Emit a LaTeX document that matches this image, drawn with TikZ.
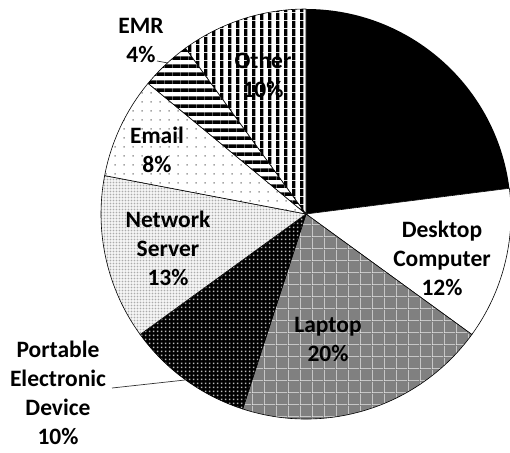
\documentclass[tikz,border=0pt]{standalone}
\usepackage{fontspec}
\setmainfont{Carlito}
\usetikzlibrary{patterns}

\pgfdeclarepatternformonly{vstripes}{\pgfpointorigin}{\pgfpoint{7.5pt}{7.5pt}}{\pgfpoint{7.5pt}{7.5pt}}{%
  \pgfpathrectangle{\pgfpointorigin}{\pgfpoint{3.6pt}{7.5pt}}\pgfusepath{fill}}
\pgfdeclarepatternformonly{hstripes}{\pgfpointorigin}{\pgfpoint{8.3pt}{8.3pt}}{\pgfpoint{8.3pt}{8.3pt}}{%
  \pgfpathrectangle{\pgfpointorigin}{\pgfpoint{8.3pt}{3.8pt}}\pgfusepath{fill}}
\pgfdeclarepatternformonly{sparsedots}{\pgfpointorigin}{\pgfpoint{8.5pt}{8.5pt}}{\pgfpoint{8.5pt}{8.5pt}}{%
  \pgfpathrectangle{\pgfpoint{3.5pt}{3.5pt}}{\pgfpoint{1.6pt}{1.6pt}}\pgfusepath{fill}}
\pgfdeclarepatternformonly{finesquares}{\pgfpointorigin}{\pgfpoint{3.4pt}{3.4pt}}{\pgfpoint{3.4pt}{3.4pt}}{%
  \pgfpathrectangle{\pgfpoint{0.7pt}{0.7pt}}{\pgfpoint{2pt}{2pt}}\pgfusepath{fill}}
\pgfdeclarepatternformonly{darkdots}{\pgfpointorigin}{\pgfpoint{4pt}{4pt}}{\pgfpoint{4pt}{4pt}}{%
  \pgfpathrectangle{\pgfpoint{1.2pt}{1.2pt}}{\pgfpoint{1.7pt}{1.7pt}}\pgfusepath{fill}}
\pgfdeclarepatternformonly{lapgrid}{\pgfpointorigin}{\pgfpoint{12pt}{12pt}}{\pgfpoint{12pt}{12pt}}{%
  \pgfpathrectangle{\pgfpoint{0pt}{0pt}}{\pgfpoint{12pt}{0.7pt}}\pgfusepath{fill}%
  \pgfpathrectangle{\pgfpoint{0pt}{0pt}}{\pgfpoint{0.7pt}{12pt}}\pgfusepath{fill}}

\tikzset{
  slice/.style={draw=black, line width=0.6pt},
  lbl/.style={align=center, font=\fontsize{23.5}{29}\selectfont\bfseries, inner sep=0pt, text=black},
  leader/.style={draw=black!80, line width=0.7pt}
}

\begin{document}
\begin{tikzpicture}[x=1pt,y=1pt]
\useasboundingbox (0,0) rectangle (510,-452);
\fill[white] (0,0) rectangle (510,-452);
\coordinate (C) at (306,-214);
\def\R{205}

% Black slice
\fill[black] (C) -- ++(7.2:\R) arc[start angle=7.2,end angle=90,radius=\R pt] -- cycle;
% Desktop
\filldraw[slice, fill=white] (C) -- ++(-36:\R) arc[start angle=-36,end angle=7.2,radius=\R pt] -- cycle;
% Laptop
\fill[black!50] (C) -- ++(-108:\R) arc[start angle=-108,end angle=-36,radius=\R pt] -- cycle;
\fill[pattern=lapgrid, pattern color=white!85!gray] (C) -- ++(-108:\R) arc[start angle=-108,end angle=-36,radius=\R pt] -- cycle;
\draw[slice] (C) -- ++(-108:\R) arc[start angle=-108,end angle=-36,radius=\R pt] -- cycle;
% Portable
\fill[black] (C) -- ++(-144:\R) arc[start angle=-144,end angle=-108,radius=\R pt] -- cycle;
\fill[pattern=darkdots, pattern color=gray!55] (C) -- ++(-144:\R) arc[start angle=-144,end angle=-108,radius=\R pt] -- cycle;
\draw[slice] (C) -- ++(-144:\R) arc[start angle=-144,end angle=-108,radius=\R pt] -- cycle;
% Network server
\fill[white] (C) -- ++(-190.8:\R) arc[start angle=-190.8,end angle=-144,radius=\R pt] -- cycle;
\fill[pattern=finesquares, pattern color=gray!65] (C) -- ++(-190.8:\R) arc[start angle=-190.8,end angle=-144,radius=\R pt] -- cycle;
\draw[slice] (C) -- ++(-190.8:\R) arc[start angle=-190.8,end angle=-144,radius=\R pt] -- cycle;
% Email
\fill[white] (C) -- ++(140.4:\R) arc[start angle=140.4,end angle=169.2,radius=\R pt] -- cycle;
\fill[pattern=sparsedots, pattern color=gray!70] (C) -- ++(140.4:\R) arc[start angle=140.4,end angle=169.2,radius=\R pt] -- cycle;
\draw[slice] (C) -- ++(140.4:\R) arc[start angle=140.4,end angle=169.2,radius=\R pt] -- cycle;
% EMR
\fill[white] (C) -- ++(126:\R) arc[start angle=126,end angle=140.4,radius=\R pt] -- cycle;
\fill[pattern=hstripes, pattern color=black] (C) -- ++(126:\R) arc[start angle=126,end angle=140.4,radius=\R pt] -- cycle;
\draw[slice] (C) -- ++(126:\R) arc[start angle=126,end angle=140.4,radius=\R pt] -- cycle;
% Other
\fill[white] (C) -- ++(90:\R) arc[start angle=90,end angle=126,radius=\R pt] -- cycle;
\fill[pattern=vstripes, pattern color=black] (C) -- ++(90:\R) arc[start angle=90,end angle=126,radius=\R pt] -- cycle;
\draw[slice] (C) -- ++(90:\R) arc[start angle=90,end angle=126,radius=\R pt] -- cycle;

% Labels
\node[lbl] (other) at (263,-75) {Other\\10\%};
\node[lbl] (emr) at (141,-40) {EMR\\4\%};
\node[lbl] (email) at (157,-150) {Email\\8\%};
\node[lbl] (net) at (168,-248) {Network\\Server\\13\%};
\node[lbl] (ped) at (58,-393) {Portable\\Electronic\\Device\\10\%};
\node[lbl] (lap) at (328,-339) {Laptop\\20\%};
\node[lbl] (desk) at (442,-258) {Desktop\\Computer\\12\%};

% Leader lines
\coordinate (emrA) at (157,-61);
\coordinate (emrB) at (168,-63);
\coordinate (pedA) at (112,-388);
\coordinate (pedB) at (185,-380);
\draw[leader] (emrA) -- (emrB);
\draw[leader] (pedA) -- (pedB);
\end{tikzpicture}
\end{document}
